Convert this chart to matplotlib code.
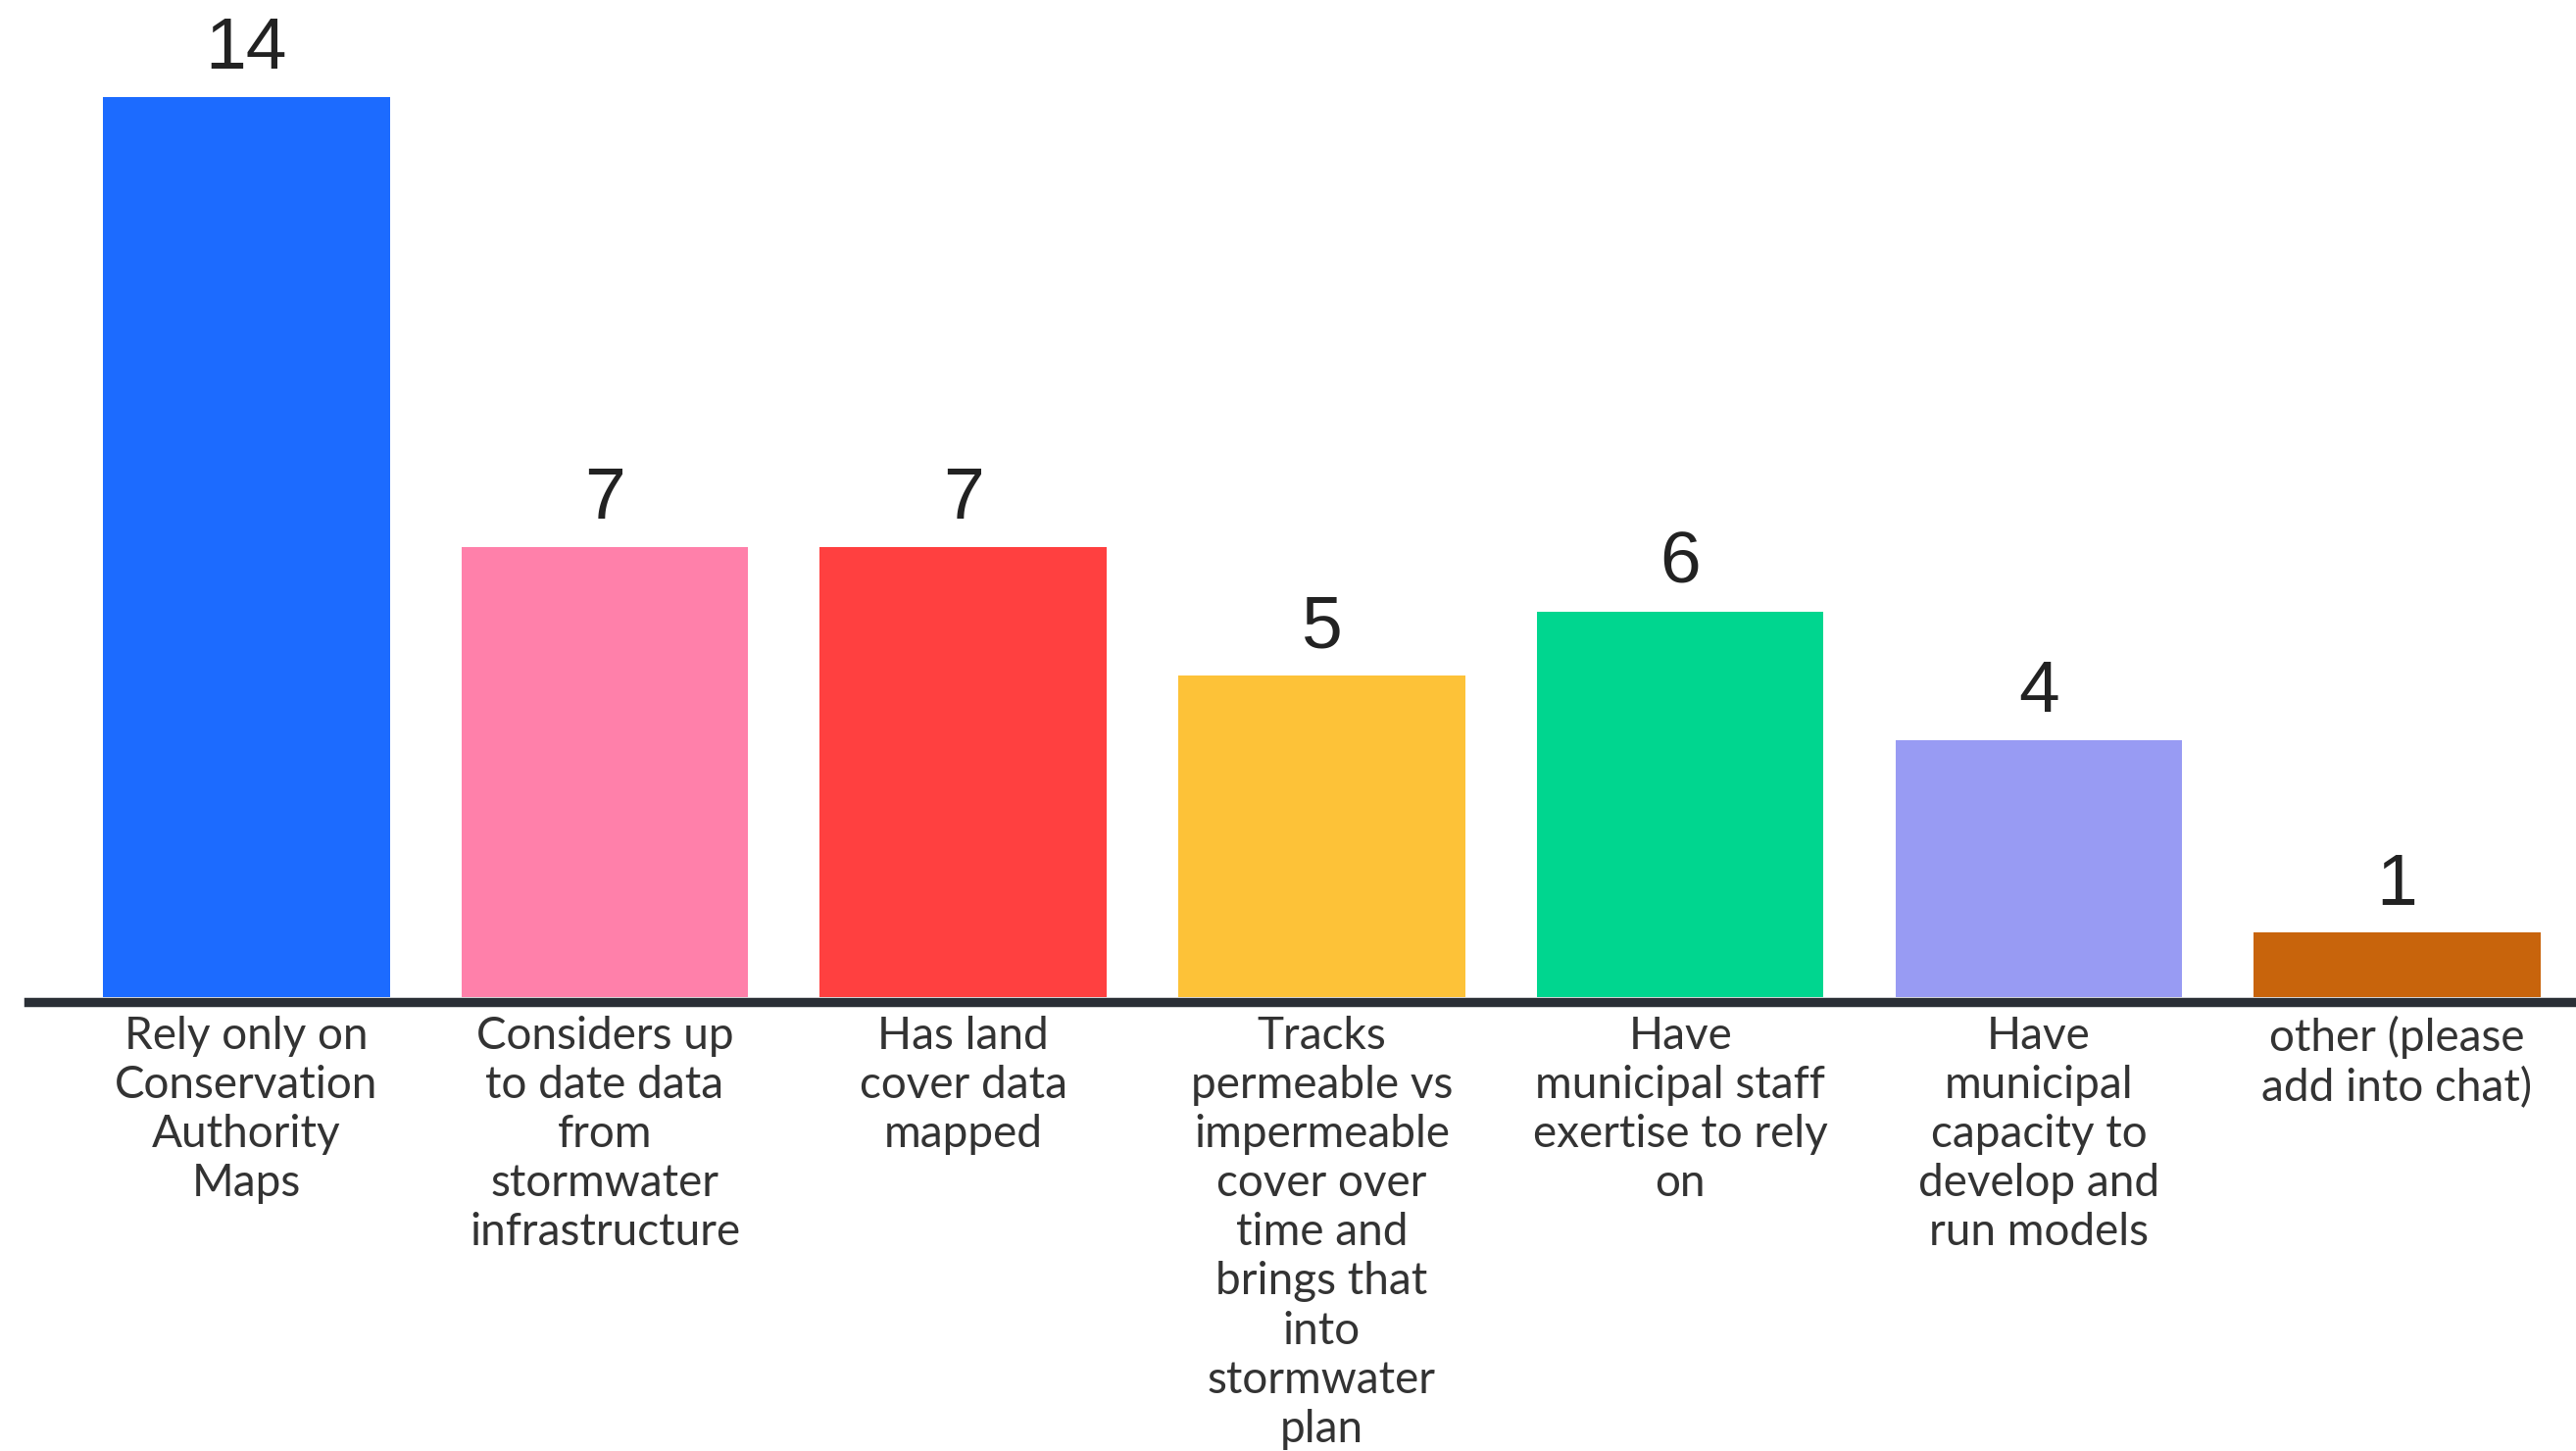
import matplotlib
matplotlib.use("Agg")
import matplotlib.pyplot as plt

categories = [
    "Rely only on\nConservation\nAuthority\nMaps",
    "Considers up\nto date data\nfrom\nstormwater\ninfrastructure",
    "Has land\ncover data\nmapped",
    "Tracks\npermeable vs\nimpermeable\ncover over\ntime and\nbrings that\ninto\nstormwater\nplan",
    "Have\nmunicipal staff\nexertise to rely\non",
    "Have\nmunicipal\ncapacity to\ndevelop and\nrun models",
    "other (please\nadd into chat)",
]
values = [14, 7, 7, 5, 6, 4, 1]
colors = ["#1c6bff", "#ff80aa", "#ff4040", "#fdc238", "#00d68f", "#989bf3", "#c8640c"]

W, H = 2628, 1480
dpi = 200
fig = plt.figure(figsize=(W / dpi, H / dpi), dpi=dpi)
base_y = 1017
left_px = 29
ax = fig.add_axes([left_px / W, (H - base_y) / H, 1 - left_px / W, base_y / H])

x = list(range(len(values)))
ax.bar(x, values, width=0.8, color=colors, zorder=2)
ax.set_xlim(-0.608, 6.499)
ax.set_ylim(0, 14 + 99 / (918 / 14))

for xi, v in zip(x, values):
    ax.annotate(str(v), (xi, v), xytext=(0, 5), textcoords="offset points",
                ha="center", va="bottom", fontsize=27, color="#222222",
                family=["Liberation Sans Narrow", "Liberation Sans"])

for s in ["top", "right", "left"]:
    ax.spines[s].set_visible(False)
ax.spines["bottom"].set_color("#2a2f36")
ax.spines["bottom"].set_linewidth(3.4)
ax.spines["bottom"].set_position(("outward", 1.7))
ax.set_yticks([])
ax.set_xticks(x)
ax.set_xticklabels(categories, fontsize=16.5, color="#333333", family="Lato",
                   linespacing=1.24)
ax.tick_params(axis="x", length=0, pad=5)

fig.savefig("out.png", dpi=dpi, facecolor="white")
